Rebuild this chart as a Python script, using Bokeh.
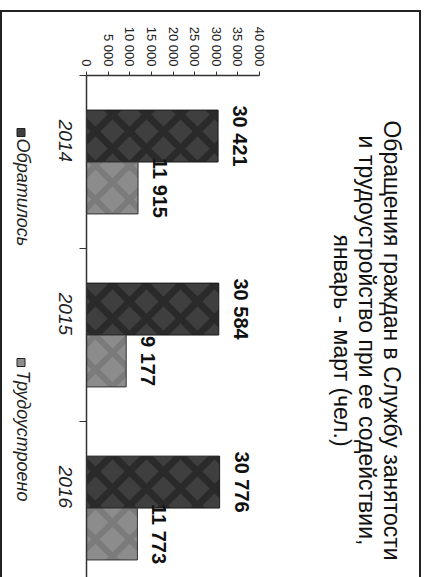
import math
import numpy as np
from bokeh.plotting import figure
from bokeh.layouts import row
from bokeh.models import ColumnDataSource, Range1d, FixedTicker
from bokeh.core.properties import value
from bokeh.embed import file_html
from bokeh.resources import INLINE

# ---- data ----
years = ["2014", "2015", "2016"]
applied = [30421, 30584, 30776]          # Обратилось
employed = [11915, 9177, 11773]          # Трудоустроено
series_names = ["Обратилось", "Трудоустроено"]
value_ticks = [0, 5000, 10000, 15000, 20000, 25000, 30000, 35000, 40000]
title_lines = ["Обращения граждан в Службу занятости",
               "и трудоустройство при ее содействии,",
               "январь - март (чел.)"]


def fmt(v):
    return f"{v:,}".replace(",", " ")


MARGIN_TOP = 10
H = 577 - MARGIN_TOP
TOP = 63                       # frame top inside each figure
W_LEG, W_MAIN, W_TTL = 44, 256, 121
FONT = "Liberation Sans"
DARK = "#3f3f3f"
LIGHT = "#8c8c8c"
BORDER = "2px solid #222"


def blank_fig(w):
    # frame spans page y 73..577; range expressed in page pixels
    f = figure(width=w, height=H, output_backend="svg", toolbar_location=None,
               x_range=Range1d(0, w), y_range=Range1d(577, TOP + MARGIN_TOP),
               x_axis_type=None, y_axis_type=None,
               min_border_left=0, min_border_right=0,
               min_border_top=TOP, min_border_bottom=0)
    f.outline_line_color = None
    f.xgrid.visible = False
    f.ygrid.visible = False
    f.margin = (MARGIN_TOP, 0, 0, 0)
    return f


# ---------------- main chart ----------------
p = figure(width=W_MAIN, height=H, output_backend="svg", toolbar_location=None,
           x_range=Range1d(0, 40000), y_range=Range1d(2.913, 0),
           x_axis_location="above",
           min_border_left=42, min_border_right=41,
           min_border_top=TOP, min_border_bottom=0)
p.outline_line_color = None
p.xgrid.visible = False
p.ygrid.visible = False
p.margin = (MARGIN_TOP, 0, 0, 0)
p.styles = {"border-top": BORDER}

idx = np.arange(len(years))
src = ColumnDataSource(dict(
    y_app=idx + 0.35, y_emp=idx + 0.65,
    applied=applied, employed=employed,
    lab_app=[fmt(v) for v in applied], lab_emp=[fmt(v) for v in employed],
))

p.hbar(y="y_app", right="applied", left=0, height=0.3, source=src,
       fill_color=DARK, line_color="#1a1a1a", line_width=1,
       hatch_pattern="diagonal_cross", hatch_color="#1c1c1c",
       hatch_scale=34, hatch_weight=7, hatch_alpha=0.6)
p.hbar(y="y_emp", right="employed", left=0, height=0.3, source=src,
       fill_color=LIGHT, line_color="#333", line_width=1,
       hatch_pattern="diagonal_cross", hatch_color="#6a6a6a",
       hatch_scale=34, hatch_weight=6, hatch_alpha=0.5)

for xcol, ycol, tcol in [("applied", "y_app", "lab_app"), ("employed", "y_emp", "lab_emp")]:
    p.text(x=xcol, y=ycol, text=tcol, source=src, angle=-math.pi / 2,
           x_offset=22, text_align="center", text_baseline="middle",
           text_font=value(FONT), text_font_style="bold",
           text_font_size="20px", text_color="#111")

# value axis (top)
xa = p.xaxis[0]
xa.ticker = FixedTicker(ticks=value_ticks, minor_ticks=[])
xa.major_label_overrides = {t: fmt(t) for t in value_ticks}
xa.major_label_orientation = -math.pi / 2
xa.major_label_text_font = FONT
xa.major_label_text_font_size = "13px"
xa.major_label_text_color = "#222"
xa.major_tick_out = 4
xa.major_tick_in = 0
xa.major_label_standoff = 5
xa.axis_line_color = "#333"
xa.axis_line_width = 1.5
xa.major_tick_line_color = "#333"

# category axis (left)
ya = p.yaxis[0]
centers = list(idx + 0.5)
ya.ticker = FixedTicker(ticks=centers, minor_ticks=list(range(len(years) + 1)))
ya.major_label_overrides = {c: y for c, y in zip(centers, years)}
ya.major_label_orientation = -math.pi / 2
ya.major_label_text_font = FONT
ya.major_label_text_font_style = "italic"
ya.major_label_text_font_size = "19px"
ya.major_label_text_color = "#222"
ya.major_tick_line_color = None
ya.major_tick_out = 0
ya.major_tick_in = 0
ya.minor_tick_out = 7
ya.minor_tick_in = 0
ya.minor_tick_line_color = "#333"
ya.major_label_standoff = 14
ya.axis_line_color = "#333"
ya.axis_line_width = 1.5

# ---------------- legend strip (left) ----------------
leg = blank_fig(W_LEG)
leg.styles = {"border-top": BORDER, "border-left": BORDER}
leg_src = ColumnDataSource(dict(
    mx=[18.5, 18.5], my=[130, 360], tx=[20, 20], ty=[136, 368],
    name=series_names, col=[DARK, LIGHT],
))
leg.scatter(x="mx", y="my", source=leg_src, marker="square", size=8,
            fill_color="col", line_color="#222", line_width=1)
leg.text(x="tx", y="ty", text="name", source=leg_src, angle=-math.pi / 2,
         text_align="left", text_baseline="middle", text_font=value(FONT),
         text_font_style="italic", text_font_size="18px", text_color="#222")

# ---------------- title strip (right) ----------------
ttl = blank_fig(W_TTL)
ttl.styles = {"border-top": BORDER, "border-right": BORDER}
ttl_src = ColumnDataSource(dict(x=[91, 66, 41], y=[338, 338, 338], t=title_lines))
ttl.text(x="x", y="y", text="t", source=ttl_src, angle=-math.pi / 2,
         text_align="center", text_baseline="middle", text_font=value(FONT),
         text_font_size="23px", text_color="#111")

layout = row(leg, p, ttl)
open("out.html", "w").write(file_html(layout, INLINE))
